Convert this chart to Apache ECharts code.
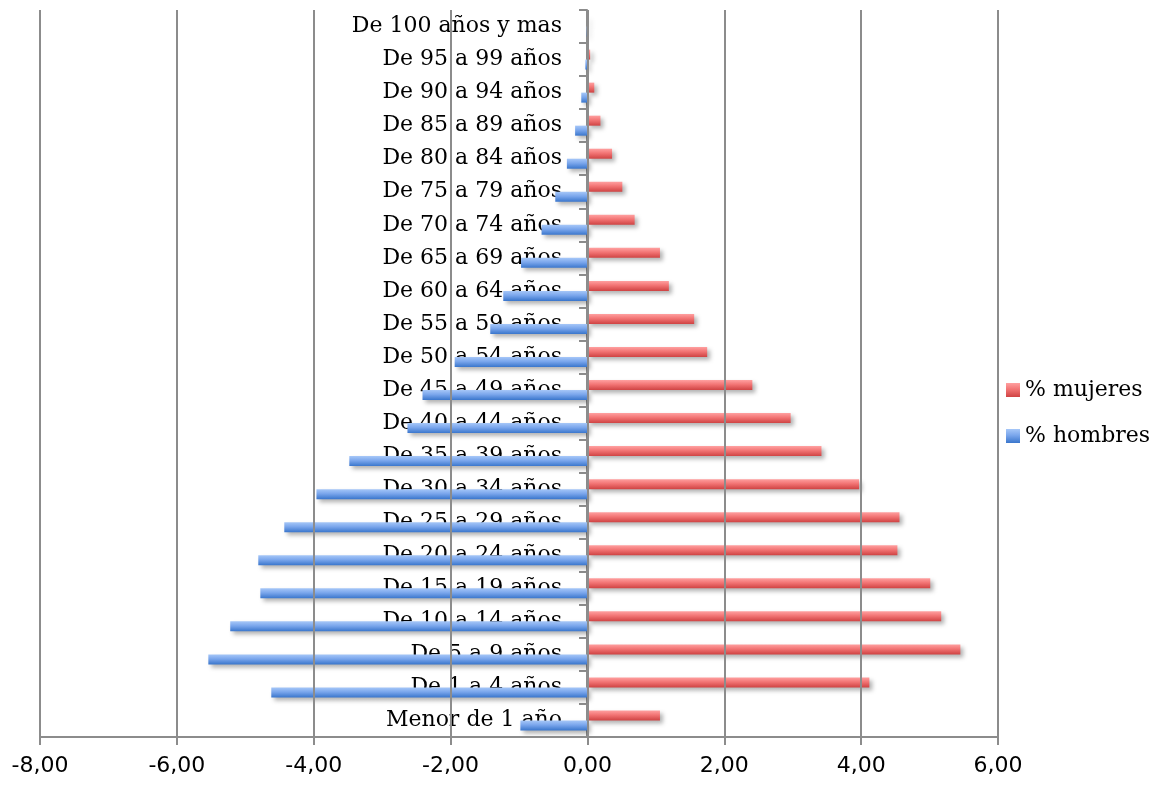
<!DOCTYPE html>
<html>
<head>
<meta charset="utf-8">
<script src="https://cdn.jsdelivr.net/npm/echarts@6/dist/echarts.min.js"></script>
<style>
html,body{margin:0;padding:0;background:#fff;}
#chart{width:1172px;height:787px;}
</style>
</head>
<body>
<div id="chart"></div>
<script>
var categories = ['Menor de 1 año','De 1 a 4 años','De 5 a 9 años','De 10 a 14 años','De 15 a 19 años','De 20 a 24 años','De 25 a 29 años','De 30 a 34 años','De 35 a 39 años','De 40 a 44 años','De 45 a 49 años','De 50 a 54 años','De 55 a 59 años','De 60 a 64 años','De 65 a 69 años','De 70 a 74 años','De 75 a 79 años','De 80 a 84 años','De 85 a 89 años','De 90 a 94 años','De 95 a 99 años','De 100 años y mas'];
var mujeres = [1.06,4.12,5.45,5.17,5.01,4.53,4.56,3.97,3.42,2.97,2.41,1.75,1.56,1.19,1.06,0.69,0.51,0.36,0.19,0.10,0.04,0.01];
var hombres = [-0.98,-4.62,-5.54,-5.22,-4.78,-4.81,-4.43,-3.96,-3.48,-2.63,-2.41,-1.94,-1.42,-1.23,-0.97,-0.67,-0.47,-0.30,-0.18,-0.09,-0.03,-0.01];
var xTicks = {min:-8, max:6, interval:2};

var gridLeft = 40, gridRight = 174;
var plotW = 1172 - gridLeft - gridRight;
var zeroOffset = plotW * (0 - xTicks.min) / (xTicks.max - xTicks.min);

var chart = echarts.init(document.getElementById('chart'));
var grayLine = '#8c8c8c';
function grad(top, mid, bottom){
  return new echarts.graphic.LinearGradient(0,0,0,1,[
    {offset:0,color:top},{offset:0.45,color:mid},{offset:1,color:bottom}
  ]);
}
chart.setOption({
  animation:false,
  backgroundColor:'#ffffff',
  grid:{left:gridLeft,right:gridRight,top:10,bottom:50,containLabel:false,outerBoundsMode:'none'},
  legend:{
    orient:'vertical',
    left:1001, top:374,
    itemWidth:14, itemHeight:14, itemGap:24,
    icon:'rect',
    textStyle:{fontFamily:'DejaVu Serif',fontSize:22,color:'#000'},
    data:['% mujeres','% hombres']
  },
  xAxis:{
    type:'value', min:xTicks.min, max:xTicks.max, interval:xTicks.interval,
    z:3,
    axisLine:{show:true,onZero:false,lineStyle:{color:grayLine,width:2}},
    axisTick:{show:true,length:8,lineStyle:{color:grayLine,width:2}},
    splitLine:{show:true,lineStyle:{color:grayLine,width:2}},
    axisLabel:{margin:18,fontFamily:'DejaVu Sans',fontSize:22,color:'#000',
      formatter:function(v){return v.toFixed(2).replace('.',',');}}
  },
  yAxis:{
    type:'category', data:categories,
    position:'left',
    offset:-Math.round(zeroOffset),
    z:1,
    axisLine:{show:true,onZero:false,lineStyle:{color:grayLine,width:2}},
    axisTick:{show:true,length:8,lineStyle:{color:grayLine,width:2}},
    axisLabel:{margin:25,fontFamily:'DejaVu Serif',fontSize:22,color:'#000',interval:0,
      padding:[5,0,0,0]},
    splitLine:{show:false}
  },
  series:[
    {
      name:'% mujeres', type:'bar', data:mujeres, barWidth:10, barGap:'0%',
      itemStyle:{color:grad('#ffa0a0','#f27474','#cf4343'),
        shadowColor:'rgba(0,0,0,0.3)',shadowBlur:4,shadowOffsetX:3,shadowOffsetY:3}
    },
    {
      name:'% hombres', type:'bar', data:hombres, barWidth:10, barGap:'0%',
      itemStyle:{color:grad('#a6c7f8','#7aa6ec','#3a76cc'),
        shadowColor:'rgba(0,0,0,0.3)',shadowBlur:4,shadowOffsetX:3,shadowOffsetY:3}
    }
  ]
});
</script>
</body>
</html>
